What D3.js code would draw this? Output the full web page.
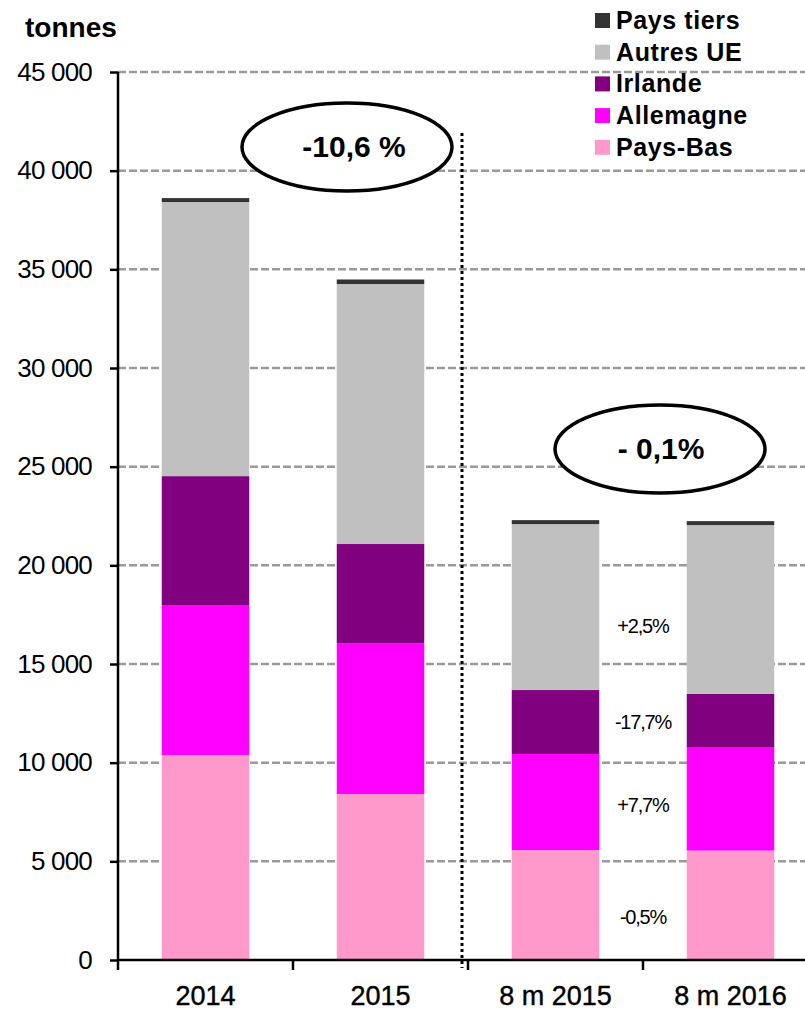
<!DOCTYPE html>
<html>
<head>
<meta charset="utf-8">
<script src="https://cdn.jsdelivr.net/npm/d3@7"></script>
<style>
  body { margin: 0; background: #fff; }
  svg { font-family: Arial, "Liberation Sans", sans-serif; }
</style>
</head>
<body>
<div id="chart"></div>
<script>
// categories and series (tonnes)
var categories = ["2014", "2015", "8 m 2015", "8 m 2016"];
var paysBas   = [10390, 8410, 5570, 5545];
var allemagne = [7600, 7650, 4870, 5215];
var irlande   = [6530, 5020, 3240, 2720];
var autresUE  = [13890, 13175, 8410, 8560];
var paysTiers = [200, 230, 200, 200];
var yTicks = [0, 5000, 10000, 15000, 20000, 25000, 30000, 35000, 40000, 45000];
var evolLabels = ["-0,5%", "+7,7%", "-17,7%", "+2,5%"];
var bubbleLabels = ["-10,6 %", "- 0,1%"];

var seriesNames = ["Pays-Bas", "Allemagne", "Irlande", "Autres UE", "Pays tiers"];
var seriesValues = [paysBas, allemagne, irlande, autresUE, paysTiers];
var colors = ["#ff99cc", "#ff00ff", "#800080", "#c0c0c0", "#333333"];

var width = 805, height = 1010;
var x0 = 118, x1 = 818, yTop = 72, yBottom = 960;

var rows = categories.map(function (c, i) {
  var r = { cat: c };
  seriesNames.forEach(function (s, j) { r[s] = seriesValues[j][i]; });
  return r;
});

var svg = d3.select("#chart").append("svg")
  .attr("width", width)
  .attr("height", height);

var x = d3.scaleBand().domain(categories).range([x0, x1]).paddingInner(0.5).paddingOuter(0.25);
var y = d3.scaleLinear().domain([0, 45000]).range([yBottom, yTop]);
var color = d3.scaleOrdinal().domain(seriesNames).range(colors);

// gridlines
svg.append("g")
  .selectAll("line")
  .data(yTicks.filter(function (d) { return d > 0; }))
  .enter().append("line")
  .attr("x1", x0).attr("x2", width)
  .attr("y1", function (d) { return y(d); })
  .attr("y2", function (d) { return y(d); })
  .attr("stroke", "#999")
  .attr("stroke-width", 2.5)
  .attr("stroke-dasharray", "8,3");

// stacked bars
var stack = d3.stack().keys(seriesNames);
svg.append("g")
  .selectAll("g")
  .data(stack(rows))
  .enter().append("g")
  .attr("fill", function (d) { return color(d.key); })
  .selectAll("rect")
  .data(function (d) { return d; })
  .enter().append("rect")
  .attr("x", function (d) { return x(d.data.cat); })
  .attr("width", x.bandwidth())
  .attr("y", function (d) { return y(d[1]); })
  .attr("height", function (d) { return y(d[0]) - y(d[1]); });

// y axis
var yAxis = d3.axisLeft(y)
  .tickValues(yTicks)
  .tickSize(8)
  .tickPadding(18)
  .tickFormat(function (d) { return d3.format(",")(d).replace(/,/g, " "); });
var gy = svg.append("g").attr("transform", "translate(" + x0 + ",0)").call(yAxis);
gy.select(".domain").attr("stroke", "#000").attr("stroke-width", 2.5).attr("d", "M0," + yTop + "V" + yBottom);
gy.selectAll(".tick line").attr("stroke", "#000").attr("stroke-width", 2.5);
gy.selectAll(".tick text").attr("font-size", 26).attr("fill", "#000").attr("letter-spacing", -0.8);

// x axis
svg.append("line")
  .attr("x1", x0).attr("x2", width)
  .attr("y1", yBottom).attr("y2", yBottom)
  .attr("stroke", "#000").attr("stroke-width", 2.5);
svg.append("g")
  .selectAll("line")
  .data(d3.range(categories.length + 1))
  .enter().append("line")
  .attr("x1", function (i) { return x0 + i * x.step(); })
  .attr("x2", function (i) { return x0 + i * x.step(); })
  .attr("y1", yBottom).attr("y2", yBottom + 10)
  .attr("stroke", "#000").attr("stroke-width", 2.5);
svg.append("g")
  .selectAll("text")
  .data(categories)
  .enter().append("text")
  .attr("x", function (d) { return x(d) + x.bandwidth() / 2; })
  .attr("y", 1005)
  .attr("text-anchor", "middle")
  .attr("font-size", 27)
  .attr("fill", "#000")
  .attr("stroke", "#000").attr("stroke-width", 0.4)
  .text(function (d) { return d; });

// unit label
svg.append("text")
  .attr("x", 25).attr("y", 37)
  .attr("font-size", 28).attr("font-weight", "bold")
  .text("tonnes");

// dotted separator between annual and 8-month bars
svg.append("line")
  .attr("x1", 462).attr("x2", 462)
  .attr("y1", 133).attr("y2", 968)
  .attr("stroke", "#000").attr("stroke-width", 3)
  .attr("stroke-dasharray", "3,3");

// bubbles
var bubbles = [
  { cx: 347, cy: 147, dx: 7, label: bubbleLabels[0] },
  { cx: 660, cy: 449, dx: 1, label: bubbleLabels[1] }
];
var bg = svg.append("g").selectAll("g").data(bubbles).enter().append("g");
bg.append("ellipse")
  .attr("cx", function (d) { return d.cx; })
  .attr("cy", function (d) { return d.cy; })
  .attr("rx", 105).attr("ry", 44)
  .attr("fill", "#fff").attr("stroke", "#000").attr("stroke-width", 3.5);
bg.append("text")
  .attr("x", function (d) { return d.cx + d.dx; })
  .attr("y", function (d) { return d.cy + 10; })
  .attr("text-anchor", "middle")
  .attr("font-size", 30).attr("font-weight", "bold")
  .text(function (d) { return d.label; });

// evolution labels between the 8-month bars (anchored in tonnes)
var labelAt = [2200, 7850, 12050, 16950];
var mid = (x(categories[2]) + x.bandwidth() + x(categories[3])) / 2;
svg.append("g")
  .selectAll("text")
  .data(evolLabels)
  .enter().append("text")
  .attr("x", mid)
  .attr("y", function (d, i) { return y(labelAt[i]) + 7; })
  .attr("text-anchor", "middle")
  .attr("font-size", 20)
  .attr("letter-spacing", -1.2)
  .attr("fill", "#000")
  .text(function (d) { return d; });

// legend (top series first)
var legendOrder = seriesNames.slice().reverse();
var lg = svg.append("g").selectAll("g")
  .data(legendOrder)
  .enter().append("g")
  .attr("transform", function (d, i) { return "translate(595," + (20 + i * 31.7) + ")"; });
lg.append("rect")
  .attr("x", 0).attr("y", -7)
  .attr("width", 15).attr("height", 15)
  .attr("fill", function (d) { return color(d); });
lg.append("text")
  .attr("x", 21).attr("y", 9)
  .attr("font-size", 25).attr("font-weight", "bold")
  .attr("letter-spacing", 0.6)
  .text(function (d) { return d; });
</script>
</body>
</html>
